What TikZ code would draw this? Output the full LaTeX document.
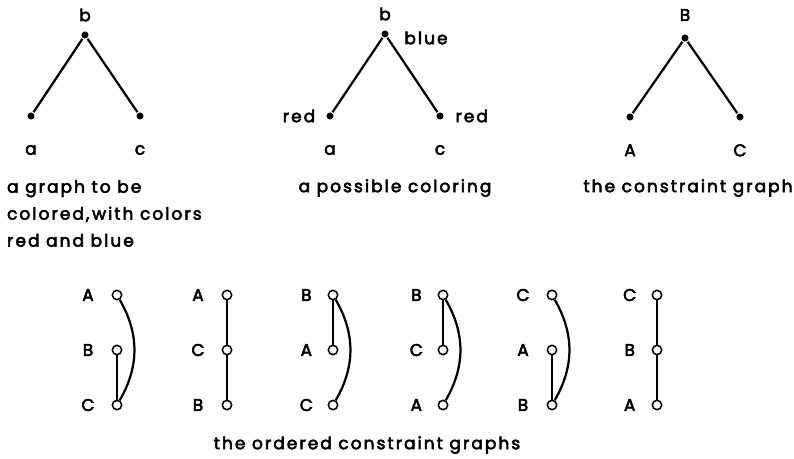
\documentclass[tikz,border=0pt]{standalone}
\usepackage{fontspec}
\setmainfont{Poppins}[LetterSpace=12, FakeBold=3.2]
\usetikzlibrary{positioning}

\tikzset{
  dot/.style={circle, fill, inner sep=0pt, minimum size=6pt},
  ring/.style={circle, draw, fill=white, inner sep=0pt, minimum size=8pt, line width=1.3pt},
  txt/.style={font=\fontsize{14.5}{23}\selectfont, inner sep=0pt},
}

\begin{document}
\begin{tikzpicture}[x=0.03cm, y=-0.03cm, on grid, line width=1.9pt]
  \useasboundingbox (0,0) rectangle (794,459);

  % a graph to be colored
  \node[dot] (b1) at (85,35)  {};
  \node[dot] (a1) at (31,116) {};
  \node[dot] (c1) at (140,116) {};
  \node[txt] (b1l) [above=0.6cm of b1] {b};
  \node[txt] (a1l) [below=1.02cm of a1] {a};
  \node[txt] (c1l) [below=1.02cm of c1] {c};
  \path (b1) edge (a1) edge (c1);
  \node[txt, align=left, anchor=north west] (cap1) at (6,179)
    {a graph to be\\colored,\,with colors\\red and blue};

  % a possible coloring
  \node[dot] (b2) at (385,34)  {};
  \node[dot] (a2) at (330,116) {};
  \node[dot] (c2) at (440,116) {};
  \node[txt] (b2l) [above=0.6cm of b2] {b};
  \node[txt] (a2l) [below=1.02cm of a2] {a};
  \node[txt] (c2l) [below=1.02cm of c2] {c};
  \node[txt] (b2c) at (426,38) {blue};
  \node[txt] (a2c) [left=0.93cm of a2] {red};
  \node[txt] (c2c) [right=0.95cm of c2] {red};
  \path (b2) edge (a2) edge (c2);
  \node[txt] (cap2) at (395,188) {a possible coloring};

  % the constraint graph
  \node[dot] (B3) at (685,38)  {};
  \node[dot] (A3) at (630,117) {};
  \node[dot] (C3) at (740,117) {};
  \node[txt] (B3l) [above=0.69cm of B3] {B};
  \node[txt] (A3l) [below=1.0cm of A3] {A};
  \node[txt] (C3l) [below=1.0cm of C3] {C};
  \path (B3) edge (A3) edge (C3);
  \node[txt] (cap3) at (688,188) {the constraint graph};

  % the ordered constraint graphs
  \node[ring] (o1A) at (117,295) {};
  \node[ring] (o1B) [below=1.65cm of o1A] {};
  \node[ring] (o1C) [below=1.65cm of o1B] {};
  \node[txt] (o1Al) [left=0.87cm of o1A] {A};
  \node[txt] (o1Bl) [left=0.87cm of o1B] {B};
  \node[txt] (o1Cl) [left=0.87cm of o1C] {C};
  \path (o1A) edge[bend left=30] (o1C)
        (o1B) edge (o1C);

  \node[ring] (o2A) at (227,295) {};
  \node[ring] (o2C) [below=1.65cm of o2A] {};
  \node[ring] (o2B) [below=1.65cm of o2C] {};
  \node[txt] (o2Al) [left=0.87cm of o2A] {A};
  \node[txt] (o2Cl) [left=0.87cm of o2C] {C};
  \node[txt] (o2Bl) [left=0.87cm of o2B] {B};
  \path (o2A) edge (o2C)
        (o2C) edge (o2B);

  \node[ring] (o3B) at (333,295) {};
  \node[ring] (o3A) [below=1.65cm of o3B] {};
  \node[ring] (o3C) [below=1.65cm of o3A] {};
  \node[txt] (o3Bl) [left=0.8cm of o3B] {B};
  \node[txt] (o3Al) [left=0.8cm of o3A] {A};
  \node[txt] (o3Cl) [left=0.8cm of o3C] {C};
  \path (o3B) edge (o3A)
              edge[bend left=30] (o3C);

  \node[ring] (o4B) at (443,295) {};
  \node[ring] (o4C) [below=1.65cm of o4B] {};
  \node[ring] (o4A) [below=1.65cm of o4C] {};
  \node[txt] (o4Bl) [left=0.8cm of o4B] {B};
  \node[txt] (o4Cl) [left=0.8cm of o4C] {C};
  \node[txt] (o4Al) [left=0.8cm of o4A] {A};
  \path (o4B) edge (o4C)
              edge[bend left=30] (o4A);

  \node[ring] (o5C) at (552,295) {};
  \node[ring] (o5A) [below=1.65cm of o5C] {};
  \node[ring] (o5B) [below=1.65cm of o5A] {};
  \node[txt] (o5Cl) [left=0.87cm of o5C] {C};
  \node[txt] (o5Al) [left=0.87cm of o5A] {A};
  \node[txt] (o5Bl) [left=0.87cm of o5B] {B};
  \path (o5C) edge[bend left=30] (o5B)
        (o5A) edge (o5B);

  \node[ring] (o6C) at (657,295) {};
  \node[ring] (o6B) [below=1.65cm of o6C] {};
  \node[ring] (o6A) [below=1.65cm of o6B] {};
  \node[txt] (o6Cl) [left=0.82cm of o6C] {C};
  \node[txt] (o6Bl) [left=0.82cm of o6B] {B};
  \node[txt] (o6Al) [left=0.82cm of o6A] {A};
  \path (o6C) edge (o6B)
        (o6B) edge (o6A);

  \node[txt] (cap4) at (367,445) {the ordered constraint graphs};
\end{tikzpicture}
\end{document}
